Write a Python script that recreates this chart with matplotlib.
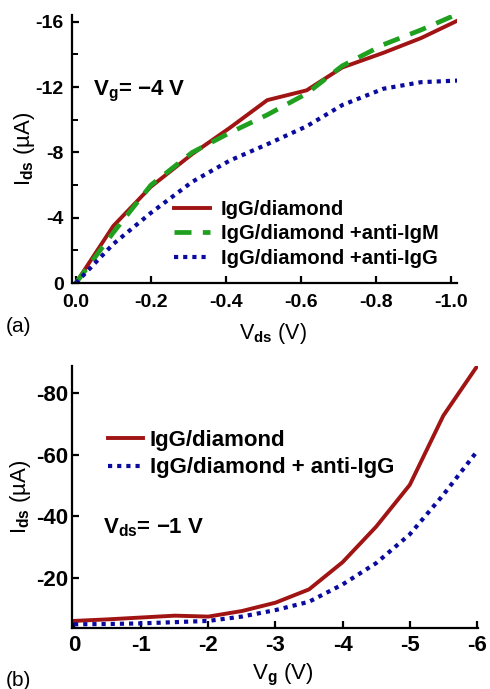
import matplotlib.pyplot as plt

plt.rcParams['font.family'] = ['Liberation Sans', 'DejaVu Sans']
plt.rcParams['font.weight'] = 'bold'
plt.rcParams['mathtext.fontset'] = 'custom'
plt.rcParams['mathtext.rm'] = 'Liberation Sans:bold'
plt.rcParams['mathtext.it'] = 'Liberation Sans:bold'
plt.rcParams['mathtext.bf'] = 'Liberation Sans:bold'

RED = '#a01414'
GREEN = '#1fa01f'
BLUE = '#0a0a9e'

# --- (a) output curves, Vg = -4 V ---
vds = [0, -0.1, -0.2, -0.31, -0.41, -0.51, -0.615, -0.71, -0.82, -0.92, -1.02]
ids_igg = [0, -3.5, -5.9, -7.9, -9.5, -11.2, -11.8, -13.2, -14.1, -15.0, -16.1]
ids_anti_igm = [0, -3.1, -6.0, -8.0, -9.2, -10.3, -11.6, -13.3, -14.6, -15.5, -16.5]
ids_anti_igg = [0, -2.4, -4.3, -6.2, -7.5, -8.5, -9.6, -10.9, -11.9, -12.3, -12.4]

# --- (b) transfer curves, Vds = -1 V ---
vg = [0, -0.5, -1, -1.5, -2, -2.5, -3, -3.5, -4, -4.5, -5, -5.5, -6]
idsb_igg = [-6.2, -6.7, -7.3, -7.9, -7.6, -9.4, -12.1, -16.4, -25.2, -36.7, -50.2, -72.6, -88.5]
idsb_anti_igg = [-5.1, -5.2, -5.4, -5.8, -6.2, -7.6, -9.7, -12.4, -18.0, -24.9, -34.2, -47.0, -61.0]

x_ticks_a = [0, -0.2, -0.4, -0.6, -0.8, -1.0]
x_labels_a = ['0.0', '-0.2', '-0.4', '-0.6', '-0.8', '-1.0']
y_ticks_a = [0, -4, -8, -12, -16]
y_labels_a = ['0', '-4', '-8', '-12', '-16']
x_ticks_b = [0, -1, -2, -3, -4, -5, -6]
x_labels_b = ['0', '-1', '-2', '-3', '-4', '-5', '-6']
y_ticks_b = [-20, -40, -60, -80]
y_labels_b = ['-20', '-40', '-60', '-80']

fig = plt.figure(figsize=(4.9, 6.89), dpi=100)
ax1 = fig.add_axes([0.147, 0.589, 0.786, 0.389])
ax2 = fig.add_axes([0.147, 0.0885, 0.829, 0.380])


def style(ax, size, xpad, ypad):
    for s in ['top', 'right']:
        ax.spines[s].set_visible(False)
    for s in ['left', 'bottom']:
        ax.spines[s].set_linewidth(1.6)
    ax.tick_params(direction='in', length=5, width=1.6, labelsize=size)
    ax.tick_params(axis='x', pad=xpad)
    ax.tick_params(axis='y', pad=ypad)
    ax.tick_params(which='minor', direction='in', length=4, width=1.4)


# panel (a)
ax1.plot(vds, ids_igg, color=RED, lw=2.8, label='IgG/diamond')
ax1.plot(vds, ids_anti_igm, color=GREEN, lw=3.4, dashes=(3.6, 2.4), label='IgG/diamond +anti-IgM')
ax1.plot(vds, ids_anti_igg, color=BLUE, lw=3.0, dashes=(1, 1.2), label='IgG/diamond +anti-IgG')
ax1.set_xlim(0.01, -1.016)
ax1.set_ylim(0, -16.4)
ax1.set_xticks(x_ticks_a, x_labels_a)
ax1.set_yticks(y_ticks_a, y_labels_a)
ax1.set_yticks([-2, -6, -10, -14], minor=True)
style(ax1, 14, 8, 6)
ax1.set_xlabel(r'V$_{\mathrm{ds}}$ (V)', fontsize=15.5)
ax1.set_ylabel(r'I$_{\mathrm{ds}}$ (µA)', fontsize=16)
ax1.xaxis.set_label_coords(0.522, -0.142)
ax1.yaxis.set_label_coords(-0.091, 0.5)
ax1.text(-0.045, -11.75, 'V$_{\\mathrm{g}}$= −4 V', fontsize=16, va='center', ha='left')
ax1.legend(loc='upper left', bbox_to_anchor=(0.264, 0.312), frameon=False, fontsize=14.5,
           handlelength=1.8, handletextpad=0.55, labelspacing=0.28, borderpad=0, borderaxespad=0)

# panel (b)
ax2.plot(vg, idsb_igg, color=RED, lw=2.8, label='IgG/diamond')
ax2.plot(vg, idsb_anti_igg, color=BLUE, lw=3.0, dashes=(1, 1.2), label='IgG/diamond + anti-IgG')
ax2.set_xlim(0.03, -6.02)
ax2.set_ylim(-3.9, -88.6)
ax2.set_xticks(x_ticks_b, x_labels_b)
ax2.set_yticks(y_ticks_b, y_labels_b)
style(ax2, 16, 5, 3)
ax2.set_xlabel(r'V$_{\mathrm{g}}$ (V)', fontsize=16)
ax2.set_ylabel(r'I$_{\mathrm{ds}}$ (µA)', fontsize=16)
ax2.xaxis.set_label_coords(0.52, -0.128)
ax2.yaxis.set_label_coords(-0.096, 0.5)
ax2.text(-0.43, -36.3, 'V$_{\\mathrm{ds}}$= −1 V', fontsize=16, va='center', ha='left')
ax2.legend(loc='upper left', bbox_to_anchor=(0.088, 0.757), frameon=False, fontsize=16,
           handlelength=1.6, handletextpad=0.3, labelspacing=0.3, borderpad=0, borderaxespad=0)

fig.text(0.012, 1 - 326 / 689, '(a)', fontsize=15, fontweight='normal', va='center')
fig.text(0.012, 1 - 680 / 689, '(b)', fontsize=15, fontweight='normal', va='center')

fig.savefig('out.png', dpi=100)
